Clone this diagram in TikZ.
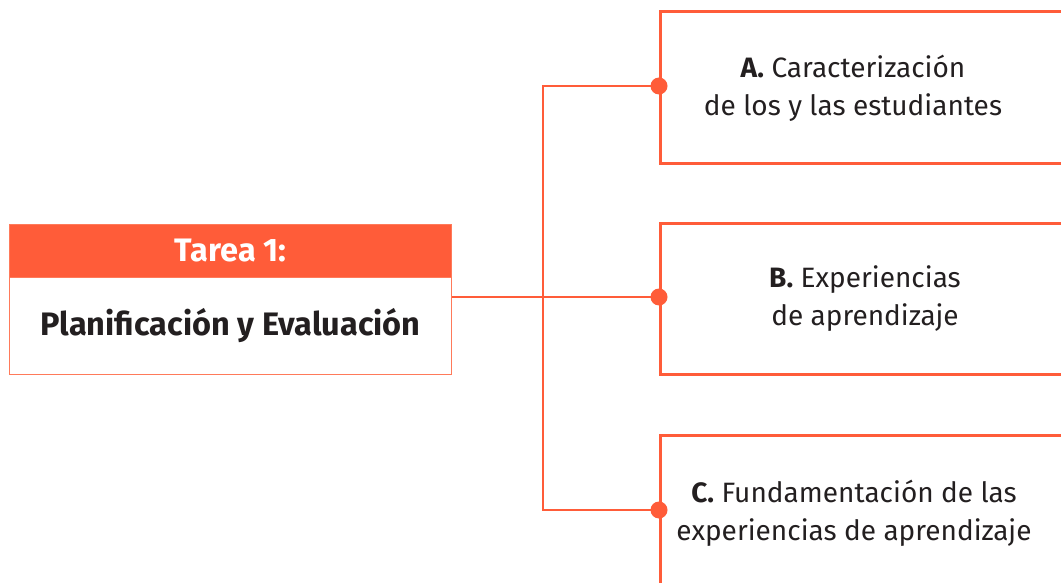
\documentclass[tikz,border=0pt]{standalone}
\usepackage{fontspec}
\setmainfont{Fira Sans}
\definecolor{org}{HTML}{FF5C39}
\definecolor{orgl}{HTML}{FF7A5A}
\definecolor{ink}{HTML}{231F20}
\begin{document}
\begin{tikzpicture}[x=1pt,y=-1pt,
  rbox/.style={draw=org,line width=2.8pt,rectangle,minimum width=420pt,anchor=north west,inner sep=0pt},
  dot/.style={circle,fill=org,inner sep=0pt,minimum size=17pt},
  conn/.style={draw=org,line width=2.8pt},
  btxt/.style={text=ink,font=\fontsize{28}{38}\selectfont,align=center},
  ttl/.style={font=\fontsize{32.5}{36}\selectfont\bfseries}]
\useasboundingbox (0,0) rectangle (1061,583);
\clip (0,0) rectangle (1061,583);
% left box
\node[rectangle,fill=org,draw=orgl,line width=1pt,anchor=north west,minimum width=442pt,minimum height=53pt,inner sep=0pt,text=white,ttl] (head) at (9,224) {Tarea 1:};
\node[rectangle,fill=white,draw=orgl,line width=1pt,anchor=north west,minimum width=442pt,minimum height=97pt,inner sep=0pt,text=ink,ttl] (body) at (9,277) {Planificación y Evaluación};
% right boxes
\node[rbox,minimum height=152pt] (boxA) at (659,10) {};
\node[rbox,minimum height=151pt] (boxB) at (659,222) {};
\node[rbox,minimum height=200pt] (boxC) at (659,434) {};
\coordinate (pA) at (659,86);
\coordinate (pB) at (659,297);
\coordinate (pC) at (659,510);
\coordinate (trunk) at (543,297);
\draw[conn] (body.east |- pB) -- (pB);
\draw[conn] (pA) -| (trunk) |- (pC);
\node[dot] (dA) at (pA) {};
\node[dot] (dB) at (pB) {};
\node[dot] (dC) at (pC) {};
\node[btxt] (tA) at (853,88) {\textbf{A.} Caracterización\\de los y las estudiantes};
\node[btxt] (tB) at (865,299) {\textbf{B.} Experiencias\\de aprendizaje};
\node[btxt] (tC) at (854,513) {\textbf{C.} Fundamentación de las\\experiencias de aprendizaje};
\end{tikzpicture}
\end{document}
